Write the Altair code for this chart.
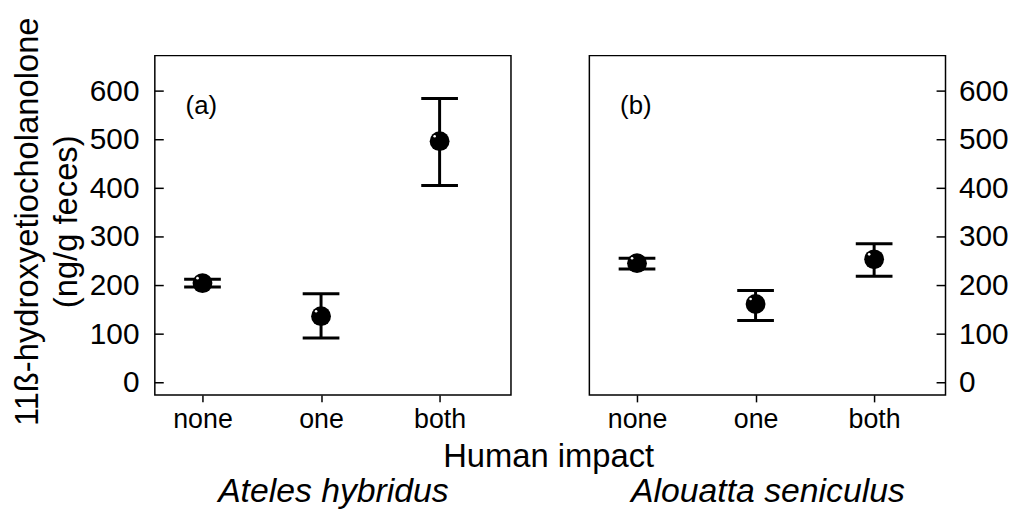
import altair as alt
import pandas as pd

impact = ["none", "one", "both"]
ateles_mean = [205, 137, 497]
ateles_low = [197, 92, 406]
ateles_high = [213, 183, 585]
alouatta_mean = [246, 162, 254]
alouatta_low = [234, 128, 219]
alouatta_high = [256, 190, 286]
species = ["Ateles hybridus", "Alouatta seniculus"]
panel_tags = ["(a)", "(b)"]
y_ticks = [0, 100, 200, 300, 400, 500, 600]
y_title = ["11ß-hydroxyetiocholanolone", "(ng/g feces)"]
x_title = "Human impact"

FONT = "Liberation Sans"
W, H = 359, 342


def panel(means, lows, highs, tag, sp, side):
    df = pd.DataFrame({
        "impact": impact,
        "idx": list(range(len(impact))),
        "mean": means, "low": lows, "high": highs,
    })
    xscale = alt.Scale(domain=[-0.402, 2.602], nice=False, zero=False)
    yscale = alt.Scale(domain=[-25, 673], nice=False, zero=False)
    xaxis = alt.Axis(
        values=[0, 1, 2],
        labelExpr="['none', 'one', 'both'][datum.value]",
        title=sp, titleFont=FONT, titleFontStyle="italic", titleFontWeight="normal",
        titleFontSize=34, titlePadding=42, labelFont=FONT, labelFontSize=27,
        labelAngle=0, labelPadding=5, ticks=True, tickSize=7, tickWidth=1.5,
        tickColor="black", domain=False, grid=False, labelColor="black",
        titleColor="black", labelFlush=False,
    )
    if side == "left":
        yaxis = alt.Axis(
            orient="left", values=y_ticks, title=y_title, titleFont=FONT,
            titleFontSize=33, titleFontWeight="normal", titleLineHeight=39,
            titlePadding=6, titleY=167, titleColor="black", labelFont=FONT,
            labelFontSize=30, labelPadding=16, labelColor="black", ticks=False,
            domain=False, grid=False, labelFlush=False,
        )
        tx, tx2 = 0, 9
    else:
        yaxis = alt.Axis(
            orient="right", values=y_ticks, title=None, labelFont=FONT,
            labelFontSize=30, labelPadding=13, labelColor="black", ticks=False,
            domain=False, grid=False, labelFlush=False,
        )
        tx, tx2 = W - 9, W

    base = alt.Chart(df)
    xenc = alt.X("idx:Q", scale=xscale, axis=xaxis)

    bars = base.mark_rule(strokeWidth=3, color="black").encode(
        x=xenc, y=alt.Y("low:Q", scale=yscale, axis=yaxis), y2="high:Q"
    )
    cap_hi = base.mark_tick(
        size=37, thickness=3, color="black", opacity=1, orient="horizontal"
    ).encode(x=xenc, y=alt.Y("high:Q", scale=yscale, axis=yaxis))
    cap_lo = base.mark_tick(
        size=37, thickness=3, color="black", opacity=1, orient="horizontal"
    ).encode(x=xenc, y=alt.Y("low:Q", scale=yscale, axis=yaxis))
    pts = base.mark_circle(size=400, color="black", opacity=1).encode(
        x=xenc, y=alt.Y("mean:Q", scale=yscale, axis=yaxis)
    )
    shine = base.mark_circle(size=7, color="white", opacity=1, xOffset=-5, yOffset=-5).encode(
        x=xenc, y=alt.Y("mean:Q", scale=yscale, axis=yaxis)
    )
    ticks = alt.Chart(pd.DataFrame({"v": y_ticks})).mark_rule(
        strokeWidth=1.5, color="black"
    ).encode(
        y=alt.Y("v:Q", scale=yscale, axis=yaxis), x=alt.value(tx), x2=alt.value(tx2)
    )
    tag_txt = alt.Chart(pd.DataFrame({"t": [tag]})).mark_text(
        align="left", baseline="alphabetic", fontSize=26, font=FONT, color="black"
    ).encode(x=alt.value(31), y=alt.value(59), text="t:N")

    layers = [ticks, bars, cap_hi, cap_lo, pts, shine, tag_txt]
    if side == "left":
        ht = alt.Chart(pd.DataFrame({"t": [x_title]})).mark_text(
            align="center", baseline="alphabetic", fontSize=33, font=FONT, color="black"
        ).encode(x=alt.value(397), y=alt.value(415), text="t:N")
        layers.append(ht)
    return alt.layer(*layers).properties(width=W, height=H)


left = panel(ateles_mean, ateles_low, ateles_high, panel_tags[0], species[0], "left")
right = panel(alouatta_mean, alouatta_low, alouatta_high, panel_tags[1], species[1], "right")

chart = alt.hconcat(left, right, spacing=79, bounds="flush").properties(
    padding={"left": 3, "top": 6, "right": 0, "bottom": 0}
).configure(font=FONT).configure_view(stroke="black", strokeWidth=1.5)

chart.save("out.html", embed_options={"renderer": "svg", "actions": False})
